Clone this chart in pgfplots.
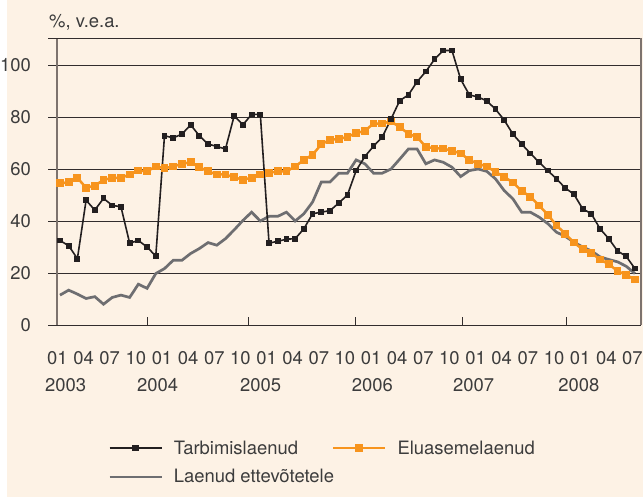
\documentclass[border=0pt]{standalone}
\usepackage{pgfplots}
\pgfplotsset{compat=1.18}
\usepackage{pgfplotstable}
\usepackage{fontspec}
\setmainfont{TeX Gyre Heros}
\definecolor{bgc}{RGB}{253,242,229}
\definecolor{blk}{RGB}{35,31,32}
\definecolor{org}{RGB}{247,148,29}
\definecolor{gry}{RGB}{110,110,113}
\definecolor{gridc}{RGB}{50,45,45}
\definecolor{axc}{RGB}{125,115,110}
\definecolor{txt}{RGB}{60,60,60}

\pgfplotstableread{
i v
0 32.5
1 30.5
2 25.5
3 48
4 44.2
5 48.7
6 46
7 45.5
8 31.5
9 32.5
10 30
11 26.5
12 72.8
13 72
14 73.4
15 77
16 72.8
17 69.6
18 68.7
19 67.7
20 80.5
21 77
22 81
23 81
24 31.5
25 32.2
26 33
27 33.2
28 37
29 42.8
30 43.4
31 44
32 46.9
33 50
34 59.4
35 64.8
36 68.8
37 72.3
38 79.2
39 86.3
40 88.5
41 93.6
42 97.5
43 102.2
44 105.6
45 105.6
46 94.5
47 88.5
48 87.7
49 86.2
50 83
51 78.8
52 73.4
53 69.6
54 66
55 62.6
56 59.4
57 56.2
58 52.7
59 50.3
60 44.7
61 42.8
62 37
63 33.2
64 28.5
65 26.4
66 21.7
}\tarb

\pgfplotstableread{
i v
0 54.5
1 54.9
2 56.6
3 52.8
4 53.6
5 55.8
6 56.6
7 56.6
8 57.9
9 59.4
10 59.1
11 61
12 60.3
13 61
14 62
15 62.6
16 60.7
17 59.1
18 57.9
19 57.9
20 56.8
21 55.9
22 56.6
23 57.9
24 58.5
25 59.1
26 59.1
27 61
28 63.5
29 65.5
30 69.5
31 71.3
32 71.5
33 72.4
34 73.8
35 74.7
36 77.5
37 77.5
38 78.3
39 76.1
40 73.6
41 72.2
42 68.6
43 67.9
44 67.9
45 67
46 66
47 63.5
48 62
49 61
50 58.8
51 57
52 54.8
53 51.6
54 49.3
55 46
56 42.4
57 38.3
58 35.1
59 31.7
60 29.1
61 27.7
62 25.2
63 23.4
64 20.8
65 19.2
66 17.5
}\eluas

\pgfplotstableread{
i v
0 11.5
1 13.4
2 11.9
3 10.2
4 10.9
5 8.0
6 10.6
7 11.5
8 10.6
9 15.7
10 14.1
11 19.8
12 21.7
13 24.9
14 24.9
15 27.5
16 29.4
17 31.7
18 30.7
19 33.2
20 36.6
21 40.2
22 43.4
23 40
24 41.8
25 41.8
26 43.4
27 40
28 42.8
29 47.3
30 55
31 55
32 58.4
33 58.4
34 63.5
35 62
36 58.4
37 58.4
38 60
39 63.8
40 67.7
41 67.7
42 62
43 63.5
44 62.6
45 60.7
46 57.1
47 59.4
48 60
49 59.1
50 56.2
51 51.7
52 48.5
53 43.4
54 43.4
55 41.5
56 39
57 35.7
58 34.1
59 31.9
60 30
61 28.5
62 26.2
63 25.2
64 24.3
65 22.6
66 19.8
}\ettev

\begin{document}
\begin{tikzpicture}
\useasboundingbox (-57bp,-172bp) rectangle (586bp,325bp);
\fill[bgc] (-50bp,-172bp) rectangle (586bp,325bp);
\begin{axis}[
  at={(0,0)}, anchor=south west,
  scale only axis, width=584bp, height=287bp,
  xmin=-0.34, xmax=66.7, ymin=0, ymax=110.4,
  clip=false,
  axis x line*=bottom, axis y line*=left,
  x axis line style={-, draw=gridc, line width=1bp},
  y axis line style={-, draw=axc, line width=1.3bp},
  font=\fontsize{18.5}{22}\selectfont,
  every tick label/.append style={text=txt},
  /pgf/number format/assume math mode=true,
  ytick={0,20,...,100},
  ytick pos=left,
  ymajorgrids,
  major grid style={draw=gridc, line width=0.9bp},
  tick align=outside,
  major tick length=9bp,
  every tick/.style={draw=gridc, line width=0.9bp},
  yticklabel style={anchor=east, inner sep=0pt, xshift=-17bp},
  extra y ticks={110.4},
  extra y tick labels={},
  extra y tick style={grid=major},
  xtick={0,3,...,66},
  xticklabels={01,04,07,10,01,04,07,10,01,04,07,10,01,04,07,10,01,04,07,10,01,04,07},
  xtick pos=left,
  xtick style={draw=none},
  xticklabel style={anchor=base, inner sep=0pt, yshift=-30bp, xshift=-2.5bp},
  extra x ticks={10,21.7,33.9,46.2,58.1},
  extra x tick labels={},
  extra x tick style={tick align=inside, major tick length=8bp, xtick style={draw=gridc, line width=1bp}},
  legend columns=2,
  legend cell align=left,
  legend style={at={(rel axis cs:0.0873,-0.402)}, anchor=north west, draw=none, fill=none,
    inner sep=0pt, row sep=14bp, font=\fontsize{18.5}{22}\selectfont, text=txt,
    nodes={inner sep=0pt},
    /tikz/every odd column/.append style={column sep=11bp},
    /tikz/every even column/.append style={column sep=34bp}},
  legend image code/.code={\draw[mark repeat=2,mark phase=2,#1] plot coordinates {(0bp,0bp) (26bp,0bp) (52bp,0bp)};},
]
\addplot[gry, line width=2.7bp, forget plot] table[x=i,y=v] {\ettev};
\addplot[org, line width=2.5bp, mark=square*, mark size=3.4bp, mark options={solid, fill=org, draw=org, line width=0bp}, forget plot] table[x=i,y=v] {\eluas};
\addplot[blk, line width=1.6bp, mark=square*, mark size=2.4bp, mark options={solid, fill=blk, draw=blk, line width=0bp}, forget plot] table[x=i,y=v] {\tarb};

\addlegendimage{blk, line width=2.2bp, mark=square*, mark size=2.8bp, mark options={solid, fill=blk, draw=blk, line width=0bp}}
\addlegendentry{Tarbimislaenud}
\addlegendimage{org, line width=2.5bp, mark=square*, mark size=3.4bp, mark options={solid, fill=org, draw=org, line width=0bp}}
\addlegendentry{Eluasemelaenud}
\addlegendimage{gry, line width=2.7bp}
\addlegendentry{\makebox[123bp][l]{Laenud ettevõtetele}}

\draw[axc, line width=1.3bp] (rel axis cs:1,0) -- (rel axis cs:1,1);

\node[anchor=base west, text=txt, inner sep=0pt, xshift=-8bp, yshift=10bp] at (rel axis cs:0,1) {\%, v.e.a.};
\node[anchor=base west, text=txt, inner sep=0pt, yshift=-66bp] at (axis cs:-1.72,0) {2003};
\node[anchor=base west, text=txt, inner sep=0pt, yshift=-66bp] at (axis cs:8.84,0) {2004};
\node[anchor=base west, text=txt, inner sep=0pt, yshift=-66bp] at (axis cs:20.67,0) {2005};
\node[anchor=base west, text=txt, inner sep=0pt, yshift=-66bp] at (axis cs:33.5,0) {2006};
\node[anchor=base west, text=txt, inner sep=0pt, yshift=-66bp] at (axis cs:45.1,0) {2007};
\node[anchor=base west, text=txt, inner sep=0pt, yshift=-66bp] at (axis cs:57.2,0) {2008};
\end{axis}
\end{tikzpicture}
\end{document}
